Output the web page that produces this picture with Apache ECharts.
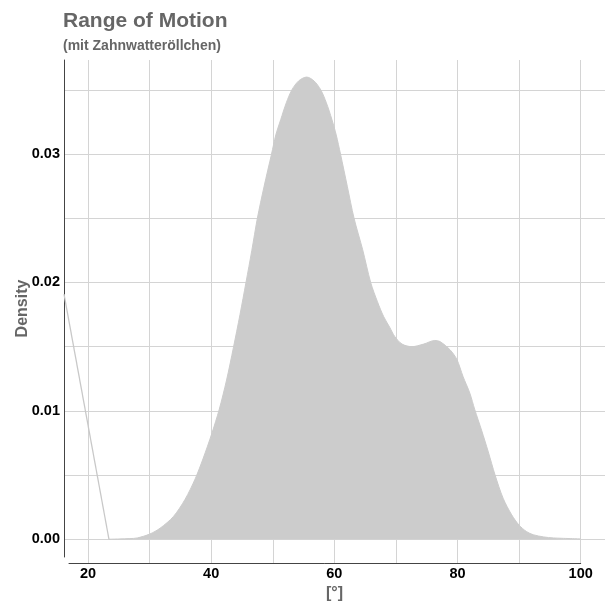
<!DOCTYPE html>
<html><head><meta charset="utf-8">
<script src="https://cdn.jsdelivr.net/npm/echarts@6/dist/echarts.min.js"></script>
<style>html,body{margin:0;padding:0;background:#fff}#c{width:610px;height:607px}</style>
</head><body><div id="c"></div>
<script>
// Kernel density estimate of range of motion (degrees)
const angle = [23.4, 25, 26.8, 28, 30, 31.7, 33.85, 35.75, 37.4, 38.7, 40.08, 41.3, 42.5, 43.6, 44.68, 45.65, 46.6, 47.5, 48.6, 49.8, 50.5, 51.3, 52.2, 53.1, 54.2, 55.5, 56.7, 57.8, 58.7, 59.6, 60.3, 61.0, 62.1, 63.2, 64.6, 65.9, 67.0, 68.0, 69.0, 69.8, 71.0, 72.6, 74.5, 76.3, 77.15, 78.8, 79.9, 80.9, 82.0, 82.8, 83.9, 85.0, 86.1, 87.4, 88.8, 90.0, 91.2, 92.3, 94.0, 95.6, 100];
const density = [0, 0.00002, 0.00005, 0.0001, 0.0004, 0.00086, 0.00176, 0.0031, 0.0047, 0.0063, 0.0082, 0.0101, 0.0124, 0.0149, 0.0175, 0.0200, 0.0225, 0.025, 0.0275, 0.03, 0.0315, 0.0327, 0.034, 0.035, 0.0357, 0.036, 0.0357, 0.035, 0.034, 0.0327, 0.0315, 0.03, 0.0275, 0.025, 0.02255, 0.02, 0.0185, 0.01735, 0.0165, 0.0158, 0.0152, 0.0150, 0.0152, 0.01548, 0.0154, 0.01475, 0.0140, 0.01267, 0.01138, 0.0101, 0.0085, 0.0068, 0.0050, 0.0032, 0.0019, 0.0011, 0.0006, 0.00035, 0.00018, 0.0001, 0.00003];
// stray closing segment visible at the left edge
const artifactAngle = [16.1, 23.4];
const artifactDensity = [0.0191, 0];
const xTickValues = [20, 40, 60, 80, 100];
const yTickValues = [0, 0.01, 0.02, 0.03];

const FONT = "'Liberation Sans', Arial, sans-serif";
const near = (v, arr, eps) => arr.some(t => Math.abs(t - v) < eps);

const chart = echarts.init(document.getElementById('c'), null, {renderer: 'canvas'});
chart.setOption({
  animation: false,
  backgroundColor: '#ffffff',
  textStyle: {fontFamily: FONT},
  title: [
    {text: 'Range of Motion', left: 63, top: 11, padding: 0,
     textStyle: {fontFamily: FONT, fontSize: 21, fontWeight: 'bold', color: '#666666'}},
    {text: '(mit Zahnwatteröllchen)', left: 63, top: 39, padding: 0,
     textStyle: {fontFamily: FONT, fontSize: 14, fontWeight: 'bold', color: '#666666'}}
  ],
  grid: [
    {left: 64, right: 5, top: 60, bottom: 44},
    {left: 64, right: 5, top: 60, bottom: 50},
    {left: 69, right: 29.3, top: 60, bottom: 44}
  ],
  xAxis: [
    {gridIndex: 0, type: 'value', min: 16.1, max: 103.95, splitNumber: 9,
     axisLine: {show: false}, axisTick: {show: false},
     splitLine: {show: true, showMinLine: false, showMaxLine: false, lineStyle: {color: '#d4d4d4', width: 1}},
     axisLabel: {margin: 3, fontFamily: FONT, fontSize: 14.5, fontWeight: 'bold', color: '#000',
       formatter: v => near(v, xTickValues, 1e-6) ? String(Math.round(v)) : ''},
     name: '[°]', nameLocation: 'middle', nameGap: 20,
     nameTextStyle: {fontFamily: FONT, fontSize: 16, fontWeight: 'bold', color: '#666666'}},
    {gridIndex: 1, type: 'value', min: 0, max: 1, show: false},
    {gridIndex: 2, type: 'value', min: 0, max: 1,
     axisLine: {show: true, lineStyle: {color: '#444444', width: 1}},
     axisTick: {show: false}, axisLabel: {show: false}, splitLine: {show: false}}
  ],
  yAxis: [
    {gridIndex: 0, type: 'value', min: -0.00185, max: 0.03733, splitNumber: 8,
     axisLine: {show: false}, axisTick: {show: false},
     splitLine: {show: true, showMinLine: false, showMaxLine: false, lineStyle: {color: '#d4d4d4', width: 1}},
     axisLabel: {margin: 4, fontFamily: FONT, fontSize: 14.5, fontWeight: 'bold', color: '#000',
       formatter: v => near(v, yTickValues, 1e-7) ? v.toFixed(2) : ''}},
    {gridIndex: 1, type: 'value', min: 0, max: 1,
     axisLine: {show: true, lineStyle: {color: '#444444', width: 1}},
     axisTick: {show: false}, axisLabel: {show: false}, splitLine: {show: false},
     name: 'Density', nameLocation: 'middle', nameGap: 33,
     nameTextStyle: {fontFamily: FONT, fontSize: 16, fontWeight: 'bold', color: '#666666'}},
    {gridIndex: 2, type: 'value', min: 0, max: 1, show: false}
  ],
  series: [
    {type: 'line', xAxisIndex: 0, yAxisIndex: 0, silent: true,
     data: angle.map((a, i) => [a, density[i]]),
     symbol: 'none', smooth: 0.3,
     lineStyle: {color: '#cccccc', width: 1},
     areaStyle: {color: '#cccccc', opacity: 1}},
    {type: 'line', xAxisIndex: 0, yAxisIndex: 0, silent: true,
     data: artifactAngle.map((a, i) => [a, artifactDensity[i]]),
     symbol: 'none',
     lineStyle: {color: '#c8c8c8', width: 1.3}}
  ]
});
</script>
</body></html>
